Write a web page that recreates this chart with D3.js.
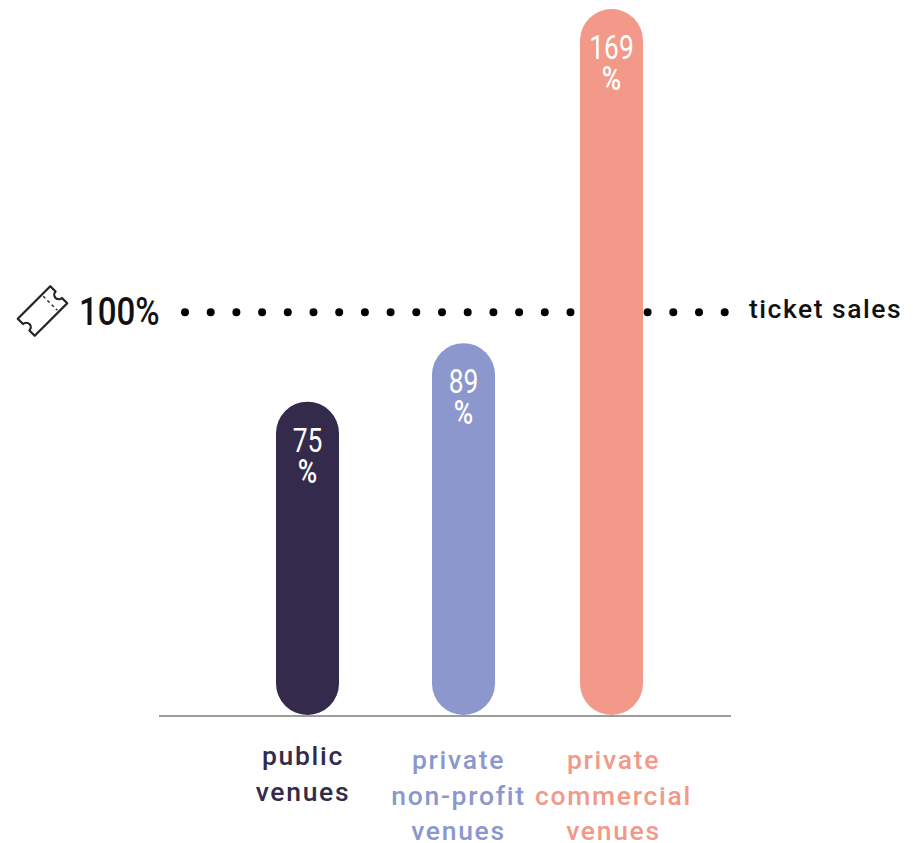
<!DOCTYPE html>
<html><head><meta charset="utf-8">
<script src="https://cdn.jsdelivr.net/npm/d3@7"></script>
<style>html,body{margin:0;padding:0;background:#fff}svg{display:block}text{font-family:Roboto,sans-serif}</style>
</head><body><div id="c"></div>
<script>
const categories = ["public venues","private non-profit venues","private commercial venues"];
const values = [75,89,169];
const valueLabels = ["75","89","169"];
const colors = ["#332a4c","#8b97cd","#f2998a"];
const categoryLines = [["public","venues"],["private","non-profit","venues"],["private","commercial","venues"]];
const referencePosition = 96.4; // where the dotted line sits on the bars' scale in the picture
const referenceLabel = "100%";
const referenceNote = "ticket sales";

const W=919,H=843;
const svg=d3.select("#c").append("svg").attr("width",W).attr("height",H);
const y=d3.scaleLinear().domain([0,169]).range([715,9]);
const x=d3.scaleOrdinal().domain(categories).range([307.5,463.5,611.5]);
const labelX=d3.scaleOrdinal().domain(categories).range([303,458.5,613.5]);
const labelY=d3.scaleOrdinal().domain(categories).range([765,769,769]);
const bw=63;

// dotted reference line
const ry=y(referencePosition);
svg.append("line").attr("x1",185).attr("x2",726).attr("y1",ry).attr("y2",ry)
  .attr("stroke","#000").attr("stroke-width",8).attr("stroke-linecap","round").attr("stroke-dasharray","0 25.7");

// baseline
svg.append("line").attr("x1",159).attr("x2",731).attr("y1",716).attr("y2",716).attr("stroke","#7d7d7d").attr("stroke-width",1.5);

// bars
svg.selectAll("rect.bar").data(categories).join("rect").attr("class","bar")
  .attr("x",d=>x(d)-bw/2).attr("width",bw)
  .attr("y",(d,i)=>y(values[i])).attr("height",(d,i)=>y(0)-y(values[i]))
  .attr("rx",bw/2).attr("ry",bw/2).attr("fill",(d,i)=>colors[i]);

// values in bars (narrowed glyphs)
categories.forEach((c,i)=>{
  const g=svg.append("g").attr("transform",`translate(${x(c)},${y(values[i])}) scale(0.8,1)`);
  g.append("text").attr("text-anchor","middle").attr("fill","#fff").attr("font-size",33).attr("y",50).text(valueLabels[i]);
  g.append("text").attr("text-anchor","middle").attr("fill","#fff").attr("font-size",33).attr("font-weight",500).attr("y",81).text("%");
});

// category labels
categories.forEach((c,i)=>{
  const t=svg.append("text").attr("text-anchor","middle").attr("fill",colors[i]).attr("font-size",26.5).attr("font-weight",500).attr("letter-spacing",1.7);
  categoryLines[i].forEach((l,j)=>t.append("tspan").attr("x",labelX(c)).attr("y",labelY(c)+j*35.5).text(l));
});

// reference texts
svg.append("g").attr("transform","translate(79,325) scale(0.87,1)")
  .append("text").attr("fill","#111").attr("font-size",38).attr("font-weight",500).text(referenceLabel);
svg.append("text").attr("x",749).attr("y",318).attr("fill","#111").attr("font-size",26.5).attr("font-weight",500).attr("letter-spacing",1.5).text(referenceNote);

// ticket icon
const g=svg.append("g").attr("transform","translate(42.5,311) rotate(-45)").attr("fill","none").attr("stroke","#222").attr("stroke-width",2.2).attr("stroke-linejoin","round");
g.append("path").attr("d","M-23,-12 H23 V-4.5 A4.5,4.5 0 0 0 23,4.5 V12 H-23 V4.5 A4.5,4.5 0 0 0 -23,-4.5 Z");
g.append("line").attr("x1",11).attr("x2",11).attr("y1",-10).attr("y2",10).attr("stroke-width",1.4).attr("stroke-dasharray","3 3");
</script></body></html>
